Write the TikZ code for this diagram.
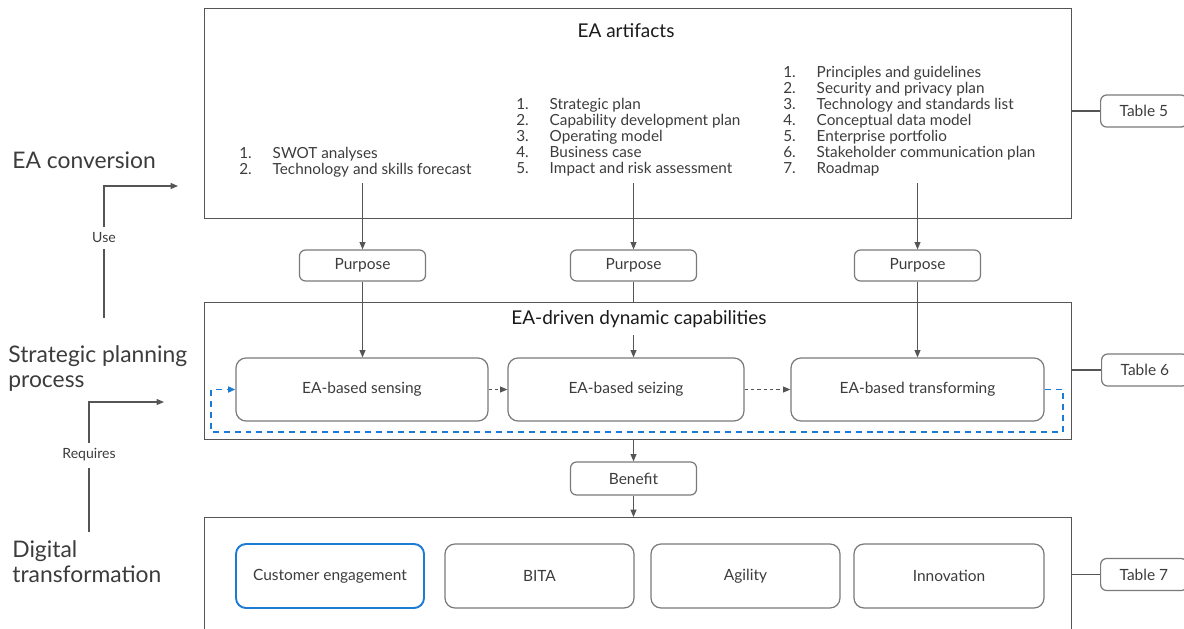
\documentclass[tikz,border=0pt]{standalone}
\usepackage{fontspec}
\setmainfont{Lato}
\usetikzlibrary{arrows.meta,calc}
\definecolor{txtgray}{HTML}{3C3C3C}
\definecolor{linegray}{HTML}{555555}
\definecolor{boxgray}{HTML}{7A7A7A}
\definecolor{loopblue}{HTML}{1C7CD5}

\begin{document}
\begin{tikzpicture}
[x=0.2mm, y=-0.2mm, >={Triangle[length=4.2pt,width=3.4pt]},
 every node/.style={text=txtgray, font=\fontsize{8.7}{9.1}\selectfont},
 frame/.style={draw=linegray, line width=0.6pt, inner sep=0, anchor=north west, minimum width=173.4mm},
 round/.style={rounded corners=2mm, draw=boxgray, line width=0.7pt, minimum height=12.6mm, inner sep=0, font=\fontsize{8.8}{10}\selectfont},
 small/.style={rounded corners=1.2mm, draw=boxgray, line width=0.7pt, minimum width=25.2mm, minimum height=6.2mm, inner sep=0, font=\fontsize{8.8}{10}\selectfont},
 tbl/.style={rounded corners=1.2mm, draw=boxgray, line width=0.7pt, minimum height=6.4mm, anchor=west, inner xsep=19*0.2mm, font=\fontsize{8.8}{10}\selectfont},
 side/.style={anchor=west, align=left, inner sep=0, font=\fontsize{13}{14.2}\selectfont},
 lbl/.style={fill=white, inner ysep=3.5pt, font=\fontsize{8}{9}\selectfont},
 title/.style={text=black!90, font=\fontsize{10.8}{12}\selectfont},
 items/.style={anchor=base west, inner sep=0},
 conn/.style={draw=linegray, line width=0.6pt},
 loopline/.style={draw=loopblue, line width=1.1pt, dash pattern=on 3.4pt off 2.8pt}]
    \useasboundingbox (0,0) rectangle (1184,628);
    \clip (0,0) rectangle (1184,628);

    % three layers
    \node[frame, minimum height=42mm] (art) at (204,8) {};
    \node[frame, minimum height=27.4mm] (mid) at (204,302) {};
    \node[frame, minimum height=26mm] (bot) at (204,517) {};

    % EA artifacts
    \node[title] (tart) at (626,31) {EA artifacts};
    \node[items] (l1) at (239,158) {\begin{tabular}[t]{@{}p{19pt}@{}l@{}}
        1. & SWOT analyses\\ 2. & Technology and skills forecast\end{tabular}};
    \node[items] (l2) at (516,109) {\begin{tabular}[t]{@{}p{19pt}@{}l@{}}
        1. & Strategic plan\\ 2. & Capability development plan\\ 3. & Operating model\\
        4. & Business case\\ 5. & Impact and risk assessment\end{tabular}};
    \node[items] (l3) at (783,77) {\begin{tabular}[t]{@{}p{19pt}@{}l@{}}
        1. & Principles and guidelines\\ 2. & Security and privacy plan\\
        3. & Technology and standards list\\ 4. & Conceptual data model\\
        5. & Enterprise portfolio\\ 6. & Stakeholder communication plan\\ 7. & Roadmap\end{tabular}};
    \coordinate (a1) at (362.5,183);
    \coordinate (a2) at (633.5,183);
    \coordinate (a3) at (917.5,183);

    \node[small] (p1) at (362.5,265.5) {Purpose};
    \node[small] (p2) at (633.5,265.5) {Purpose};
    \node[small] (p3) at (917.5,265.5) {Purpose};

    % dynamic capabilities
    \node[title, inner ysep=4pt] (tmid) at (639,319) {EA-driven dynamic capabilities};
    \node[round, minimum width=50.4mm] (sen) at (362,389.5) {EA-based sensing};
    \node[round, minimum width=47.2mm] (sei) at (626,389.5) {EA-based seizing};
    \node[round, minimum width=50.6mm] (tra) at (917.5,389.5) {EA-based transforming};

    \node[small, minimum height=6.6mm] (ben) at (633.5,478.5) {Benefit};

    % digital transformation
    \node[round, draw=loopblue, line width=1.1pt, minimum width=37.6mm, minimum height=12.8mm] (ce) at (330,576) {Customer engagement};
    \node[round, minimum width=37.8mm, minimum height=12.8mm] (bita) at (539.5,576) {BITA};
    \node[round, minimum width=37.8mm, minimum height=12.8mm] (agi) at (745.5,576) {Agility};
    \node[round, minimum width=38mm, minimum height=12.8mm] (inn) at (949,576) {Innovation};

    \node[tbl] (t5) at (1100,111) {Table 5};
    \node[tbl] (t6) at (1101,370) {Table 6};
    \node[tbl] (t7) at (1100,574.5) {Table 7};

    % left side
    \node[side] (sconv) at (12,160) {EA conversion};
    \node[side] (splan) at (8,368.5) {Strategic planning\\process};
    \node[side] (sdig) at (12,561.5) {Digital\\transformation};
    \coordinate (u0) at (104,318);
    \coordinate (u1) at (178,186);
    \coordinate (r0) at (89,532);
    \coordinate (r1) at (164,402);

    % connectors
    \path (u0) edge[conn, ->, to path={|- (\tikztotarget) node[lbl, pos=0.303] {Use}}] (u1);
    \path (r0) edge[conn, ->, to path={|- (\tikztotarget) node[lbl, pos=0.296] {Requires}}] (r1);
    \path (a1) edge[conn, ->] (p1) (a2) edge[conn, ->] (p2) (a3) edge[conn, ->] (p3);
    \path (p1) edge[conn, ->] (p1 |- sen.north) (p3) edge[conn, ->] (p3 |- tra.north);
    \path (p2) edge[conn] (p2 |- mid.north);
    \path (p2 |- tmid.south) edge[conn, ->] (p2 |- sei.north);
    \path (sen) edge[conn, ->, dash pattern=on 2pt off 1.6pt] (sei)
          (sei) edge[conn, ->, dash pattern=on 2pt off 1.6pt] (tra);
    \path[loopline, ->] (tra.east) -- ++(18,0) -- ++(0,42.5) -| ($(sen.west)+(-24,0)$) -- (sen.west);
    \path (mid.south -| ben) edge[conn, ->] (ben) (ben) edge[conn, ->] (ben |- bot.north);
    \path (t5 -| art.east) edge[conn] (t5) (t6 -| mid.east) edge[conn] (t6) (t7 -| bot.east) edge[conn] (t7);
\end{tikzpicture}
\end{document}
